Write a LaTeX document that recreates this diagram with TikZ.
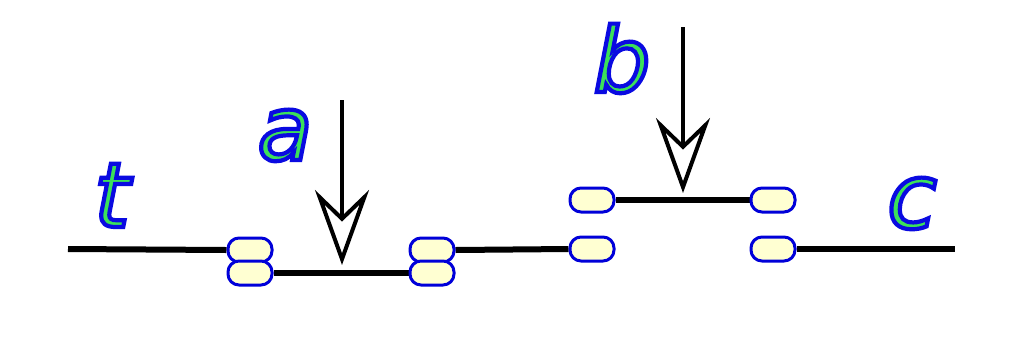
\documentclass[tikz,border=0pt]{standalone}
\usepackage{fontspec}
\setmainfont{DejaVu Sans}
\newfontfamily\lblfont{DejaVu Sans}
\usetikzlibrary{arrows.meta,backgrounds}
\definecolor{lblblue}{RGB}{10,10,225}
\definecolor{lblgreen}{RGB}{60,225,90}
\definecolor{padfill}{RGB}{255,255,210}
\newcommand\strokeonly[1]{\special{pdf:literal direct 1 Tr 4.2 w}#1\special{pdf:literal direct 0 Tr}}
\tikzset{
  coupler/.style={draw=blue!85!black, line width=3pt, fill=padfill, rounded corners=11pt,
    minimum width=44pt, minimum height=24pt, inner sep=0pt},
  track/.style={line width=6pt},
  feed/.style={line width=4pt, -{Stealth[open, fill=white, length=75pt, width=54pt, inset=26pt]}},
  lblin/.style={anchor=base, inner sep=0pt, text=lblgreen, font=\lblfont\itshape\fontsize{90}{90}\selectfont},
  lblout/.style={anchor=base, inner sep=0pt, text=lblblue, font=\lblfont\itshape\fontsize{90}{90}\selectfont}
}
\begin{document}
\begin{tikzpicture}[x=1pt,y=-1pt]
\useasboundingbox (0,0) rectangle (1024,341);

% ===== Koppelstellen =====
\node[coupler] (la1) at (250,250) {};
\node[coupler] (la2) at (250,273) {};
\node[coupler] (ra1) at (432,250) {};
\node[coupler] (ra2) at (432,273) {};

\node[coupler] (lb1) at (592,200) {};
\node[coupler] (lb2) at (592,249) {};
\node[coupler] (rb1) at (773,200) {};
\node[coupler] (rb2) at (773,249) {};

% ===== Strecken =====
\coordinate (tend) at (68,249);
\coordinate (cend) at (955,249);
\begin{scope}[on background layer]
\draw[track] (tend) -- (la1.west);
\draw[track] (la2.east) -- (ra2.west);
\draw[track] (ra1.east) -- (lb2.west);
\draw[track] (lb1.east) -- (rb1.west);
\draw[track] (rb2.east) -- (cend);
\end{scope}

% ===== Einspeisungen =====
\coordinate (atop) at (342,100);
\coordinate (atip) at (342,265);
\draw[feed] (atop) -- (atip);

\coordinate (btop) at (683,27);
\coordinate (btip) at (683,193);
\draw[feed] (btop) -- (btip);

% ===== Beschriftung =====
\node[lblin] (lt) at (112,227) {t};
\node[lblout] at (lt.base) {\strokeonly{t}};

\node[lblin] (la) at (285,160) {a};
\node[lblout] at (la.base) {\strokeonly{a}};

\node[lblin] (lb) at (622,92) {b};
\node[lblout] at (lb.base) {\strokeonly{b}};

\node[lblin] (lc) at (912,228) {c};
\node[lblout] at (lc.base) {\strokeonly{c}};

\end{tikzpicture}
\end{document}
